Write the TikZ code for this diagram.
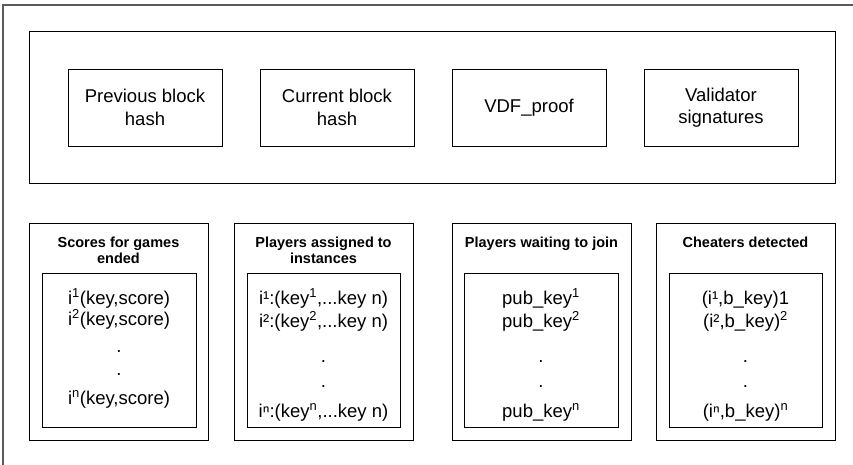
\documentclass[tikz,border=0pt]{standalone}
\usepackage{fontspec}
\setmainfont{Liberation Sans}
\begin{document}
\begin{tikzpicture}[x=1pt,y=-1pt,
  box/.style={draw=black, line width=1pt, rectangle, inner sep=0pt},
  hdrtext/.style={font=\fontsize{18.5}{22.5}\selectfont, align=center},
  ttl/.style={font=\fontsize{14.5}{16}\selectfont\bfseries, align=center, anchor=base, inner sep=0pt},
  lst/.style={font=\fontsize{18.5}{23}\selectfont, align=center, anchor=base, inner sep=0pt},
  lsttight/.style={font=\fontsize{18.5}{21}\selectfont, align=center, anchor=base, inner sep=0pt},
  frame/.style={draw={rgb,255:red,90;green,90;blue,90}, line width=1.5pt}]
\useasboundingbox (0,0) rectangle (853,464);
\draw[frame] (3,470) -- (3,5) -- (860,5);
% header
\node[box, minimum width=806pt, minimum height=152pt] (hdr) at (432,107) {};
\node[box, minimum width=154pt, minimum height=77pt, hdrtext] (prev) at (145,107.5) {Previous block\\hash};
\node[box, minimum width=154pt, minimum height=77pt, hdrtext] (curr) at (337,107.5) {Current block\\hash};
\node[box, minimum width=154pt, minimum height=77pt, hdrtext] (vdf) at (529,107.5) {VDF\_proof};
\node[box, minimum width=154pt, minimum height=77pt, hdrtext] (val) at (721,107.5) {Validator\\signatures};
% bottom outer boxes
\node[box, minimum width=179pt, minimum height=217pt] (b1) at (118.5,331.5) {};
\node[box, minimum width=179pt, minimum height=217pt] (b2) at (323.5,331.5) {};
\node[box, minimum width=179pt, minimum height=217pt] (b3) at (541.5,331.5) {};
\node[box, minimum width=179pt, minimum height=217pt] (b4) at (745.5,331.5) {};
% inner boxes
\node[box, minimum width=154pt, minimum height=154pt] (i1) at (119,350) {};
\node[box, minimum width=153pt, minimum height=154pt] (i2) at (323.5,350) {};
\node[box, minimum width=154pt, minimum height=154pt] (i3) at (541,350) {};
\node[box, minimum width=153pt, minimum height=154pt] (i4) at (745.5,350) {};
% titles (base = last line)
\node[ttl] (t1) at (118.5,263) {Scores for games\\ended};
\node[ttl] (t2) at (323.5,263) {Players assigned to\\instances};
\node[ttl] (t3) at (541.5,247) {Players waiting to join};
\node[ttl] (t4) at (745.5,247) {Cheaters detected};
% lists (base = last line)
\node[lsttight] (l1) at (119,404) {i\textsuperscript{1}(key,score)\\i\textsuperscript{2}(key,score)\\[6pt].\\[2pt].\\[8pt]i\textsuperscript{n}(key,score)};
\node[lst] (l2) at (323.5,417) {i¹:(key\textsuperscript{1},...key n)\\i²:(key\textsuperscript{2},...key n)\\[12pt].\\[2pt].\\[7pt]iⁿ:(key\textsuperscript{n},...key n)};
\node[lst] (l3) at (541,417) {pub\_key\textsuperscript{1}\\pub\_key\textsuperscript{2}\\[12pt].\\[2pt].\\[7pt]pub\_key\textsuperscript{n}};
\node[lst] (l4) at (745.5,417) {(i¹,b\_key)1\\(i²,b\_key)\textsuperscript{2}\\[12pt].\\[2pt].\\[7pt](iⁿ,b\_key)\textsuperscript{n}};
\end{tikzpicture}
\end{document}
